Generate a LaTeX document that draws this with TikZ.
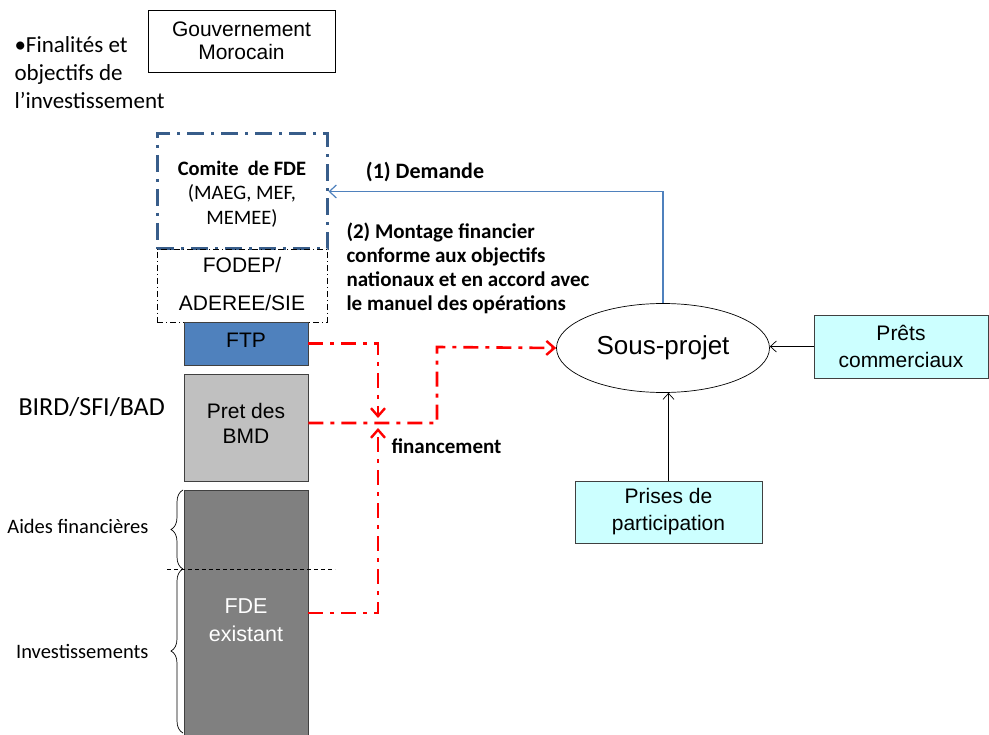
\documentclass[tikz,border=0pt]{standalone}
\usepackage{fontspec}
\newfontfamily\calfont{Carlito}
\newfontfamily\arfont{Liberation Sans}
\usetikzlibrary{shapes.geometric,decorations.pathreplacing,arrows.meta}
\definecolor{ftpblue}{HTML}{4F81BD}
\definecolor{comiteblue}{HTML}{385D8A}
\definecolor{arrowblue}{HTML}{4F81BD}
\definecolor{lightcyan}{HTML}{CCFFFF}
\definecolor{bmdgray}{HTML}{C0C0C0}
\definecolor{fdegray}{HTML}{808080}
\newcommand\fsz[2]{\fontsize{#1pt}{#2pt}\selectfont}
\begin{document}
\begin{tikzpicture}[x=1pt,y=-1pt,
  box/.style={draw=black!75, line width=0.8pt, inner sep=0pt, align=center},
  arial/.style={font=\arfont\fsz{21}{26}},
  redline/.style={draw=red, line width=2.6pt, dash pattern=on 15pt off 7pt on 4pt off 7pt},
  redtip/.style={-{Straight Barb[length=8pt,width=14pt,line width=2.4pt]}},
  blackarrow/.style={draw=black, line width=0.7pt, -{Straight Barb[length=6pt,width=11pt]}},
  bluearrow/.style={draw=arrowblue, line width=1.2pt, -{Straight Barb[length=7pt,width=13pt]}},
  bracestyle/.style={draw=black, line width=0.7pt, decorate, decoration={brace, amplitude=12pt}}]
\useasboundingbox (0,0) rectangle (989,735);

% Top left
\node[box, draw=black, font=\arfont\fsz{21}{23}, minimum width=187pt, minimum height=62pt] (gov) at (241.5,41) {Gouvernement\\Morocain};
\node[font=\calfont\fsz{23}{28}, align=left, anchor=west] (fin) at (11,73) {•Finalités et\\objectifs de\\l’investissement};

% Comite / FODEP
\node[draw=comiteblue, line width=3pt, dash pattern=on 17pt off 7pt on 3pt off 7pt, minimum width=170pt, minimum height=115pt, inner sep=0pt] (comite) at (242,191.5) {};
\node[font=\calfont\fsz{20.5}{24.5}, align=center] (comitetxt) at (242,194) {\textbf{Comite\ \ de FDE}\\(MAEG, MEF,\\MEMEE)};
\node[draw=black, line width=0.6pt, dash pattern=on 6pt off 3pt on 1pt off 3pt, minimum width=170pt, minimum height=73pt, inner sep=0pt] (fodep) at (242,285.5) {};
\node[font=\arfont\fsz{21}{38}, align=center] (fodeptxt) at (242,284) {FODEP/\\ADEREE/SIE};

% Column of boxes
\node[box, fill=ftpblue, minimum width=124pt, minimum height=43pt] (ftp) at (246,343.5) {};
\node[arial] (ftptxt) at (246,340) {FTP};
\node[box, fill=bmdgray, minimum width=124pt, minimum height=107pt] (bmd) at (246,427.5) {};
\node[font=\arfont\fsz{21}{25}, align=center] (bmdtxt) at (246,423) {Pret des\\BMD};
\node[box, fill=fdegray, minimum width=124pt, minimum height=250pt] (fde) at (246,615) {};
\node[text=white, align=center, font=\arfont\fsz{21.5}{28}] (fdetxt) at (246,620) {FDE\\existant};

\node[font=\calfont\fsz{26}{30}, anchor=west] (bird) at (15,407) {BIRD/SFI/BAD};

% dashed separator and braces
\coordinate (sepL) at (167,569);
\coordinate (sepR) at (335,569);
\draw[black, line width=0.6pt, dash pattern=on 4pt off 3pt] (sepL) -- (sepR);
\coordinate (b1top) at (183,490);
\coordinate (b1bot) at (183,569);
\coordinate (b2top) at (183,569);
\coordinate (b2bot) at (183,733);
\draw[bracestyle] (b1bot) -- (b1top);
\draw[bracestyle] (b2bot) -- (b2top);
\node[font=\calfont\fsz{20.5}{24}, anchor=east] (aides) at (152,526) {Aides financières};
\node[font=\calfont\fsz{20.5}{24}, anchor=east] (inv) at (152,651) {Investissements};

% Sous-projet and sources
\node[draw=black, line width=0.7pt, ellipse, minimum width=213pt, minimum height=89pt, inner sep=0pt, font=\arfont\fsz{26}{30}] (sp) at (663,348) {Sous-projet};
\node[box, fill=lightcyan, minimum width=174pt, minimum height=63pt, font=\arfont\fsz{21}{27}] (prets) at (901,346.5) {Prêts\\commerciaux};
\node[box, fill=lightcyan, minimum width=187pt, minimum height=62pt, font=\arfont\fsz{21}{27}] (prises) at (668.5,512) {Prises de\\participation};
\draw[blackarrow] (prets.west) -- (sp.east |- prets.west);
\draw[blackarrow] (prises.north) -- (prises.north |- sp.south);

% Blue request arrow
\draw[bluearrow] (sp.north) |- (comite.east);
\node[font=\calfont\bfseries\fsz{22}{24}] (dem) at (425,172) {(1) Demande};
\node[font=\calfont\bfseries\fsz{21}{24}, align=left, anchor=north west] (mont) at (343,219) {(2) Montage financier\\conforme aux objectifs\\nationaux et en accord avec\\le manuel des opérations};

% Red financing flows
\coordinate (jtop) at (378,418);
\coordinate (jbot) at (378,428);
\coordinate (turn) at (437,347);
\draw[redline, redtip] (ftp.east) -| (jtop);
\draw[redline, redtip] (fde.east |- 0,613) -| (jbot);
\draw[redline, redtip] (bmd.east |- 0,423) -| (turn) -- (sp.west);
\node[font=\calfont\bfseries\fsz{21}{24}, anchor=west] (fin2) at (388,446) {financement};
\end{tikzpicture}
\end{document}
